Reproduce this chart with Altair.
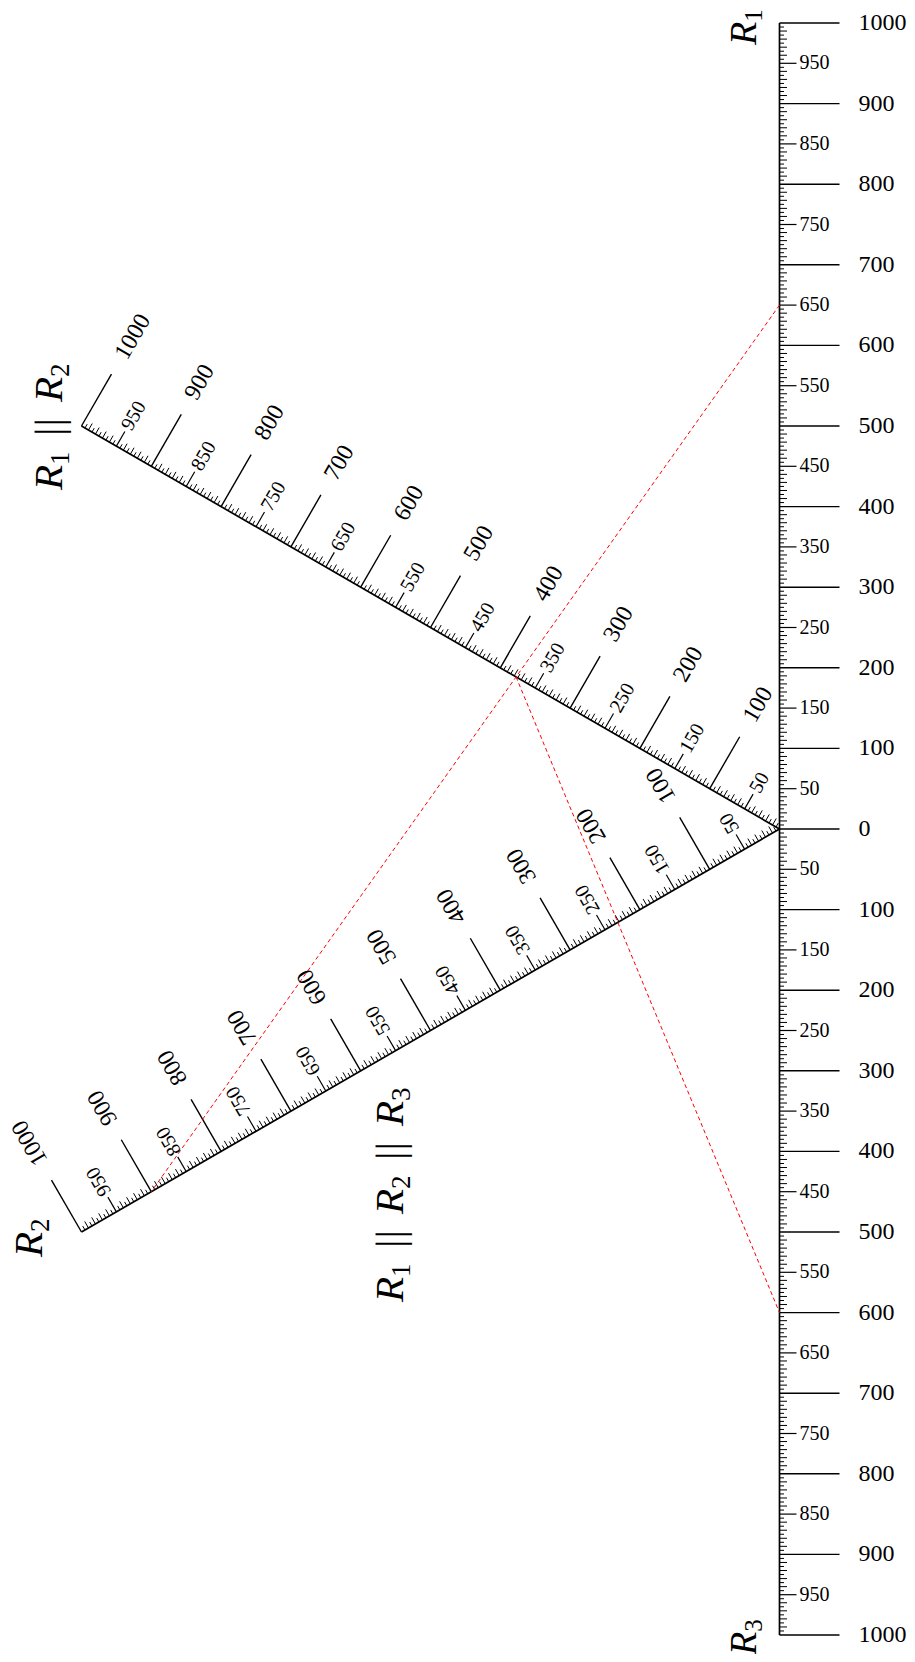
import math
import altair as alt
import pandas as pd

# ---------------- data (values of the nomogram) ----------------
scale_values = list(range(0, 1001, 5))          # graduations of every scale
major_step, medium_step, minor_step = 100, 50, 10
# worked example drawn in red
R1_example = 650
R2_example = 900
R3_example = 600

# scales: name, direction of the scale (deg), direction of ticks (deg), label angle (vega, cw)
scales = [
    ("R1", 90, 0, 0, True),
    ("R3", 270, 0, 0, False),
    ("R12", 150, 60, 300, False),
    ("R2", 210, 120, 240, False),
]

# titles: pieces of R with subscripts
titles = [
    {"subs": ["1"], "anchor": (756, 45), "R": 38, "sub": 25},
    {"subs": ["3"], "anchor": (756, 1655), "R": 38, "sub": 25},
    {"subs": ["2"], "anchor": (42, 1257), "R": 41, "sub": 27},
    {"subs": ["1", "2"], "anchor": (62, 490), "R": 41, "sub": 27},
    {"subs": ["1", "2", "3"], "anchor": (403, 1302), "R": 41, "sub": 27},
]

# ---------------- geometry / style ----------------
W, H = 899, 1646
S = 0.806                    # px per ohm
OX, OY = 779.5, 829.0        # page position of the common zero
MARGIN = 8
xmin = -(OX - MARGIN) / S
xmax = xmin + W / S
ymax = (OY - MARGIN) / S
ymin = ymax - H / S

TICK_LEN = {"major": 60, "medium": 17, "minor10": 7.5, "minor5": 4.5}
TICK_W = {"major": 1.4, "medium": 1.2, "minor10": 1.0, "minor5": 1.0}
BIG_GAP, SMALL_GAP = 19, 3
BIG_FS, SMALL_FS = 24, 20
FONT = "Liberation Serif"


def page_to_data(px, py):
    return (px - OX) / S, (OY - py) / S


def unit(deg):
    r = math.radians(deg)
    return math.cos(r), math.sin(r)


axis_rows, tick_rows, label_rows = [], [], []
for name, d_ang, t_ang, l_ang, with_zero in scales:
    dx, dy = unit(d_ang)
    tx, ty = unit(t_ang)
    axis_rows.append({"x": 0.0, "y": 0.0, "x2": 1000 * dx, "y2": 1000 * dy})
    for v in scale_values:
        if v == 0 and not with_zero:
            continue
        if v % major_step == 0:
            kind = "major"
        elif v % medium_step == 0:
            kind = "medium"
        elif v % minor_step == 0:
            kind = "minor10"
        else:
            kind = "minor5"
        px, py = v * dx, v * dy
        L = TICK_LEN[kind] / S
        tick_rows.append({"x": px, "y": py, "x2": px + L * tx, "y2": py + L * ty,
                          "w": TICK_W[kind]})
        if kind in ("major", "medium"):
            g = (TICK_LEN[kind] + (BIG_GAP if kind == "major" else SMALL_GAP)) / S
            label_rows.append({"x": px + g * tx, "y": py + g * ty, "text": str(v),
                               "angle": l_ang,
                               "fs": BIG_FS if kind == "major" else SMALL_FS})

axis_df = pd.DataFrame(axis_rows)
tick_df = pd.DataFrame(tick_rows)
label_df = pd.DataFrame(label_rows)


# red example lines
def on_scale(v, d_ang):
    ux, uy = unit(d_ang)
    return v * ux, v * uy


R12_example = R1_example * R2_example / (R1_example + R2_example)
a = on_scale(R1_example, 90)
b = on_scale(R2_example, 210)
c = on_scale(R12_example, 150)
d = on_scale(R3_example, 270)
red_df = pd.DataFrame([
    {"x": a[0], "y": a[1], "x2": b[0], "y2": b[1]},
    {"x": c[0], "y": c[1], "x2": d[0], "y2": d[1]},
])

# title pieces (rotated 270: reading upward)
PERIOD, SUB_ALONG, SUB_DOWN, BAR_ALONG, BAR_SEP = 88, 25, 7, 63, 9.5
r_rows, s_rows, b_rows = [], [], []
for t in titles:
    ax, ay = t["anchor"]
    k = t["R"] / 41
    for i, sub in enumerate(t["subs"]):
        base = i * PERIOD * k
        x, y = page_to_data(ax, ay - base)
        r_rows.append({"x": x, "y": y, "text": "R", "fs": t["R"]})
        x, y = page_to_data(ax + SUB_DOWN * k, ay - base - SUB_ALONG * k)
        s_rows.append({"x": x, "y": y, "text": sub, "fs": t["sub"]})
        if i < len(t["subs"]) - 1:
            for off in (-BAR_SEP / 2, BAR_SEP / 2):
                x, y = page_to_data(ax, ay - base - (BAR_ALONG + off) * k)
                b_rows.append({"x": x, "y": y, "text": "|", "fs": t["R"]})
r_df, s_df, b_df = pd.DataFrame(r_rows), pd.DataFrame(s_rows), pd.DataFrame(b_rows)

# ---------------- chart ----------------
xs = alt.Scale(domain=[xmin, xmax], nice=False, zero=False)
ys = alt.Scale(domain=[ymin, ymax], nice=False, zero=False)
X = alt.X("x:Q", scale=xs, axis=None)
Y = alt.Y("y:Q", scale=ys, axis=None)

axes_layer = alt.Chart(axis_df).mark_rule(color="black", strokeWidth=1.7).encode(
    x=X, y=Y, x2="x2:Q", y2="y2:Q")
ticks_layer = alt.Chart(tick_df).mark_rule(color="black").encode(
    x=X, y=Y, x2="x2:Q", y2="y2:Q", strokeWidth=alt.StrokeWidth("w:Q", scale=None))
labels_layer = alt.Chart(label_df).mark_text(
    font=FONT, align="left", baseline="middle", color="black").encode(
    x=X, y=Y, text="text:N", angle=alt.Angle("angle:Q", scale=None),
    size=alt.Size("fs:Q", scale=None))
red_layer = alt.Chart(red_df).mark_rule(color="#ff0000", strokeWidth=1,
                                        strokeDash=[4, 3]).encode(
    x=X, y=Y, x2="x2:Q", y2="y2:Q")
r_layer = alt.Chart(r_df).mark_text(
    font=FONT, fontStyle="italic", align="left", baseline="alphabetic",
    angle=270, color="black").encode(
    x=X, y=Y, text="text:N", size=alt.Size("fs:Q", scale=None))
s_layer = alt.Chart(s_df).mark_text(
    font=FONT, align="left", baseline="alphabetic", angle=270, color="black").encode(
    x=X, y=Y, text="text:N", size=alt.Size("fs:Q", scale=None))
b_layer = alt.Chart(b_df).mark_text(
    font=FONT, align="center", baseline="alphabetic", angle=270,
    color="black").encode(
    x=X, y=Y, text="text:N", size=alt.Size("fs:Q", scale=None))

chart = alt.layer(axes_layer, ticks_layer, red_layer, labels_layer,
                  r_layer, s_layer, b_layer).properties(
    width=W, height=H, padding=0, autosize=alt.AutoSizeParams(type="none")
).configure_view(stroke=None)

chart.save("out.html", embed_options={"renderer": "svg", "actions": False})
